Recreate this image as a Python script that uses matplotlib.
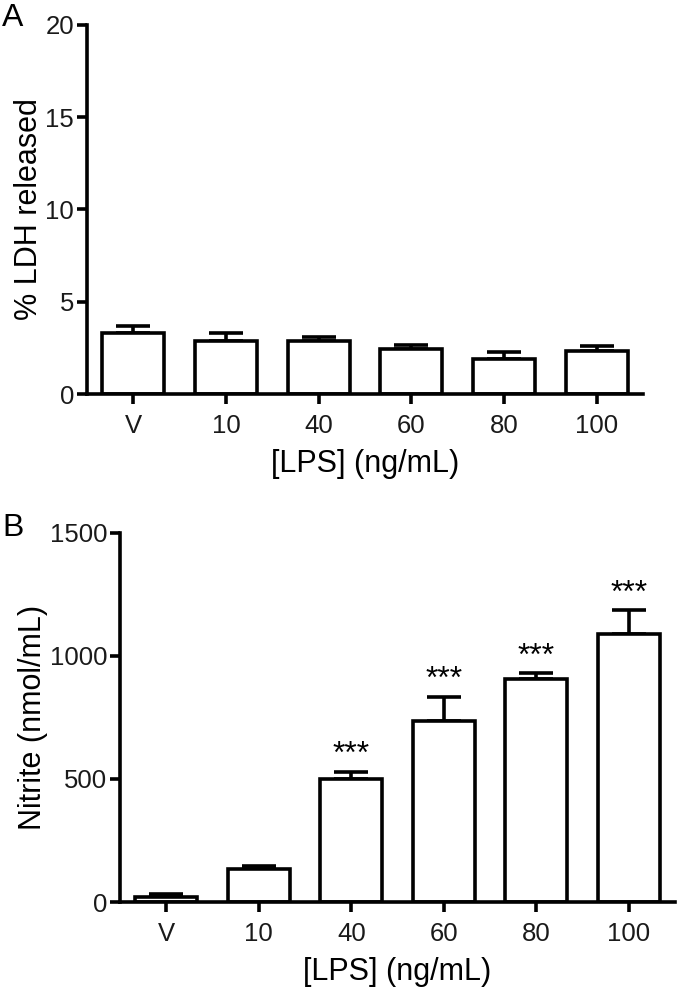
import numpy as np
import matplotlib
matplotlib.use("Agg")
import matplotlib.pyplot as plt

plt.rcParams['font.family'] = ['Liberation Sans', 'DejaVu Sans']

# === DADOS ===
doses = ["V", "10", "40", "60", "80", "100"]

ldh_mean = [3.3, 2.85, 2.85, 2.45, 1.9, 2.35]
ldh_sem = [0.4, 0.45, 0.25, 0.22, 0.4, 0.23]

nitrite_mean = [21, 134, 500, 735, 905, 1090]
nitrite_sem = [10, 14, 30, 100, 25, 95]
nitrite_sig = ["", "", "***", "***", "***", "***"]

LW = 2.6

fig = plt.figure(figsize=(6.77, 9.91), dpi=100)
ax_a = fig.add_axes([0.1285, 0.6024, 0.8213, 0.3724])
ax_b = fig.add_axes([0.1773, 0.0898, 0.8197, 0.3724])


def bar_panel(ax, mean, sem, ylim, yticks, ylabel):
    x = np.arange(len(doses))
    ax.bar(x, mean, width=0.667, color="white", edgecolor="black",
           linewidth=LW, zorder=2)
    ax.errorbar(x, mean, yerr=[np.zeros(len(sem)), sem], fmt="none",
                ecolor="black", elinewidth=LW, capsize=12.5, capthick=LW,
                zorder=1)
    ax.set_xlim(-0.5, 5.5)
    ax.set_ylim(*ylim)
    ax.set_yticks(yticks)
    ax.set_xticks(x)
    ax.set_xticklabels(doses)
    for s in ["top", "right"]:
        ax.spines[s].set_visible(False)
    for s in ["left", "bottom"]:
        ax.spines[s].set_linewidth(LW)
    ax.tick_params(axis="both", direction="out", length=7.2, width=LW,
                   labelsize=18.5, labelcolor="#1a1a1a")
    ax.tick_params(axis="x", pad=7)
    ax.tick_params(axis="y", pad=2)
    ax.set_xlabel("[LPS] (ng/mL)", fontsize=22, labelpad=8)
    ax.set_ylabel(ylabel, fontsize=22, labelpad=1)
    ax.patch.set_alpha(0)


# === PAINEL A ===
bar_panel(ax_a, ldh_mean, ldh_sem, (0, 20), [0, 5, 10, 15, 20],
          "% LDH released")
fig.text(0.003, 0.997, "A", fontsize=23, va="top", ha="left")

# === PAINEL B ===
bar_panel(ax_b, nitrite_mean, nitrite_sem, (0, 1500), [0, 500, 1000, 1500],
          "Nitrite (nmol/mL)")
fig.text(0.003, 0.482, "B", fontsize=23, va="top", ha="left")

for i, (m, e, s) in enumerate(zip(nitrite_mean, nitrite_sem, nitrite_sig)):
    if s:
        ax_b.annotate(s, (i, m + e), xytext=(0, 1), textcoords="offset points",
                      ha="center", va="bottom", fontsize=23)

fig.savefig("out.png", dpi=100)
